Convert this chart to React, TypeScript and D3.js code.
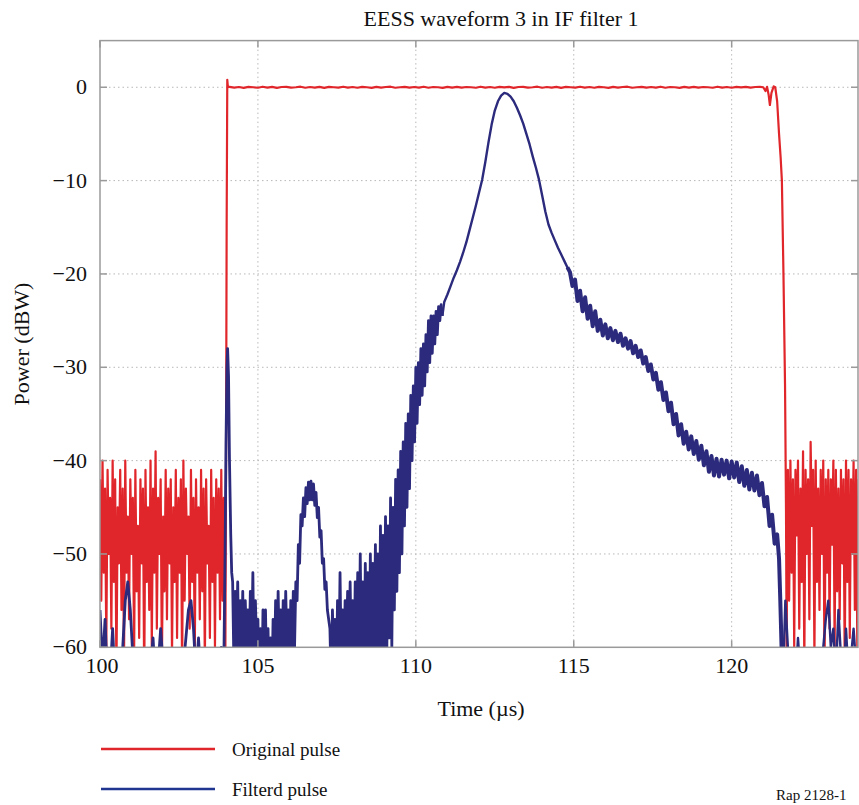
import React from "react";
import * as d3 from "d3";

const W = 859;
const H = 805;

const xTicks = [100, 105, 110, 115, 120];
const yTicks = [0, -10, -20, -30, -40, -50, -60];
const xGrid = [105, 110, 115, 120];
const yGrid = [0, -10, -20, -30, -40, -50];

const titleText = "EESS waveform 3 in IF filter 1";
const xLabel = "Time (µs)";
const yLabel = "Power (dBW)";
const legendNames = ["Original pulse", "Filterd pulse"];
const figRef = "Rap 2128-1";

// ---------- Original pulse (red) ----------
const redNoiseLeftStart = 100;
const redNoiseLeftStep = 0.04;
const redNoiseLeft = [
  -42, -55, -40, -52, -43, -60, -41, -50, -44, -58, -40, -53, -42, -63, -45, -51, -41, -56, -43, -62,
  -40, -52, -46, -57, -42, -50, -44, -61, -41, -54, -47, -59, -42, -51, -43, -64, -41, -53, -45, -56,
  -40, -60, -43, -52, -39, -58, -44, -50, -42, -62, -46, -54, -41, -57, -43, -51, -42, -61, -45, -53,
  -41, -59, -44, -52, -42, -63, -40, -55, -43, -50, -46, -58, -41, -53, -44, -61, -42, -52, -45, -57,
  -41, -54, -43, -62, -42, -51, -47, -59, -41, -53, -44, -60, -42, -52, -43, -57, -41, -55, -44, -60,
];
const redRise: [number, number][] = [
  [103.97, -60], [103.99, -40], [104.01, -15], [104.03, 0.8], [104.05, 0],
];
const redTopStart = 104.1;
const redTopStep = 0.15;
const redTop = [
  0.05, -0.04, 0.03, -0.06, 0.04, 0, -0.05, 0.06, -0.03, 0.05,
  -0.06, 0.03, 0.05, -0.04, 0, 0.06, -0.05, 0.03, -0.03, 0.05,
  -0.06, 0.05, 0, -0.04, 0.06, -0.03, 0.03, -0.05, 0.05, 0,
  -0.06, 0.05, -0.03, 0.03, 0.06, -0.05, 0, 0.05, -0.04, 0.03,
  -0.03, 0.06, -0.05, 0.03, 0, -0.06, 0.05, -0.03, 0.05, -0.04,
  0.03, 0, -0.05, 0.06, -0.03, 0.03, -0.05, 0.04, -0.02, 0.05,
  -0.06, 0.03, 0.05, -0.04, 0, 0.06, -0.05, 0.03, -0.03, 0.05,
  -0.06, 0.05, 0, -0.04, 0.06, -0.03, 0.03, -0.05, 0.05, 0,
  -0.06, 0.05, -0.03, 0.03, 0.06, -0.05, 0, 0.05, -0.04, 0.03,
  -0.03, 0.06, -0.05, 0.03, 0, -0.06, 0.05, -0.03, 0.05, -0.04,
  0.03, 0, -0.05, 0.06, -0.03, 0.03, -0.05, 0.04, -0.02, 0.05,
  -0.04, 0.03, 0.05,
];
const redFall: [number, number][] = [
  [121.0, 0], [121.07, -0.4], [121.12, 0.05], [121.17, -0.8], [121.21, -1.9], [121.26, -0.6],
  [121.33, 0.1], [121.38, 0.0], [121.44, -1.5], [121.5, -5], [121.55, -7.5], [121.59, -10],
  [121.64, -20], [121.69, -32], [121.72, -45], [121.74, -60],
];
const redNoiseRightStart = 121.78;
const redNoiseRightStep = 0.04;
const redNoiseRight = [
  -41, -55, -40, -52, -42, -60, -41, -48, -40, -58, -43, -53, -39, -62, -41, -50, -42, -57, -38, -47,
  -41, -61, -40, -53, -43, -56, -41, -50, -40, -63, -42, -52, -41, -58, -42, -49, -40, -60, -41, -54,
  -43, -57, -41, -51, -42, -62, -40, -53, -41, -59, -42, -50, -40, -56, -41, -61, -42,
];

// ---------- Filtered pulse (blue) ----------
const blueNoiseLeftStart = 100;
const blueNoiseLeftStep = 0.08;
const blueNoiseLeft = [
  -56, -62, -57, -64, -63, -58, -64, -65, -63, -60, -55, -53, -56, -61, -64, -65, -62, -64, -63, -65,
  -62, -59, -64, -62, -58, -62, -65, -64, -62, -65, -64, -63, -65, -62, -59, -56, -55, -58, -63, -59,
  -64, -65, -62, -64, -63, -65, -61, -64, -60, -62,
];
const blueSpike: [number, number][] = [
  [103.96, -50], [103.99, -38], [104.02, -30], [104.04, -28], [104.07, -31], [104.1, -40],
  [104.14, -48], [104.17, -52],
];
const blueFloorStart = 104.2;
const blueFloorStep = 0.04;
const blueFloor = [
  -53, -62, -54, -60, -53, -63, -55, -61, -54, -64, -55, -60, -56, -62, -54, -61, -52, -63, -55, -60,
  -57, -65, -58, -66, -56, -63, -56, -64, -58, -66, -59, -65, -57, -63, -55, -62, -54, -61, -56, -63,
  -55, -62, -54, -60, -56, -63, -55, -61, -54, -60,
];
const blueBumpStart = 106.2;
const blueBumpStep = 0.04;
const blueBump = [
  -53, -55, -49, -51, -45.8, -47, -44, -46, -42.9, -44.6, -42.3, -44.2, -42.2, -44.2, -42.5, -44.8,
  -43.4, -46.1, -45, -48.2, -47.5, -51, -50.5, -53.8, -53, -56,
];
const blueRiseStart = 107.28;
const blueRiseStep = 0.04;
const blueRise = [
  -58, -64, -56, -62, -57, -65, -55, -63, -52, -62, -56, -64, -55, -61, -54, -63, -53, -62, -55, -64,
  -53, -61, -52, -63, -50, -62, -53, -64, -51, -61, -52, -63, -50, -62, -51, -60, -49, -63, -50, -61,
  -47, -62, -48, -60, -46, -61, -47, -59, -44, -60, -45, -56, -42, -54, -41, -52, -39, -50, -38, -47,
  -36, -45, -35, -43, -33, -40, -32, -38, -30, -36, -29.5, -34, -28, -33, -27.5, -32, -26.5, -30.5, -25, -29.5,
  -24.5, -28.5, -24.5, -27.5, -24, -26.5, -23.5, -25, -23.3, -24.5,
];
const bluePeakStart = 110.9;
const bluePeakStep = 0.1;
const bluePeak = [
  -23.0, -22.2, -21.3, -20.4, -19.6, -18.7, -17.7, -16.6, -15.3, -14.0,
  -12.7, -11.3, -9.9, -8.0, -5.9, -4.0, -2.5, -1.5, -0.9, -0.6,
  -0.7, -1.0, -1.5, -2.2, -3.0, -3.9, -5.0, -6.1, -7.4, -8.6,
  -9.9, -11.6, -13.3, -14.7, -15.6, -16.4, -17.2, -17.9, -18.6, -19.3,
];
const blueTailStart = 114.88;
const blueTailStep = 0.08;
const blueTail = [
  -19.8, -21.3, -20.6, -22.9, -21.8, -24.0, -22.5, -24.8, -23.4, -25.6,
  -24.0, -26.1, -24.9, -26.6, -25.4, -26.9, -25.8, -27.1, -26.1, -27.3,
  -26.4, -27.7, -26.9, -28.0, -27.2, -28.5, -27.7, -28.9, -28.2, -29.6,
  -28.9, -30.4, -29.7, -31.3, -30.6, -32.4, -31.6, -33.5, -32.7, -34.7,
  -33.8, -36.1, -35.0, -37.3, -36.1, -38.2, -36.9, -38.8, -37.4, -39.3,
  -37.9, -39.9, -38.4, -40.5, -39.0, -41.2, -39.5, -41.6, -39.8, -41.7,
  -39.9, -41.5, -40.0, -41.9, -40.1, -41.8, -40.2, -42.3, -40.6, -42.7,
  -41.0, -43.1, -41.3, -43.2, -41.6, -43.7, -42.4, -44.9, -43.9, -47.0,
  -45.8, -48.9, -47.9,
];
const blueDrop: [number, number][] = [
  [121.5, -50.5], [121.54, -55], [121.58, -60], [121.62, -64],
];
const blueNoiseRightStart = 121.7;
const blueNoiseRightStep = 0.08;
const blueNoiseRight = [
  -55, -60, -63, -61, -64, -59, -63, -65, -62, -64, -61, -65, -63, -62, -64, -60, -57, -55, -60, -58,
  -63, -56, -61, -64, -58, -63, -61, -58, -62, -64,
];

const seq = (t0: number, dt: number, vals: number[]): [number, number][] =>
  vals.map((v, i) => [t0 + i * dt, v]);

const redSeries: [number, number][] = [
  ...seq(redNoiseLeftStart, redNoiseLeftStep, redNoiseLeft),
  ...redRise,
  ...seq(redTopStart, redTopStep, redTop.slice(0, Math.floor((121.0 - redTopStart) / redTopStep) + 1)),
  ...redFall,
  ...seq(redNoiseRightStart, redNoiseRightStep, redNoiseRight),
];

const blueNoisy: [number, number][] = [
  ...seq(blueNoiseLeftStart, blueNoiseLeftStep, blueNoiseLeft),
  ...blueSpike,
  ...seq(blueFloorStart, blueFloorStep, blueFloor),
  ...seq(blueBumpStart, blueBumpStep, blueBump),
  ...seq(blueRiseStart, blueRiseStep, blueRise),
];
const bluePeakSeries = seq(bluePeakStart, bluePeakStep, bluePeak);
const blueTailSeries: [number, number][] = [
  ...seq(blueTailStart, blueTailStep, blueTail),
  ...blueDrop,
];
const blueRightSeries = seq(blueNoiseRightStart, blueNoiseRightStep, blueNoiseRight);

const RED = "#e0262a";
const BLUE = "#2b2a7c";
const AXIS = "#9a9a9a";
const GRID = "#b8b8b8";
const FONT = "'Liberation Serif', 'Times New Roman', serif";

export default function App() {
  const left = 100;
  const right = 858;
  const top = 40.6;
  const bottom = 647.3;

  const x = d3.scaleLinear().domain([100, 124]).range([left, right]);
  const y = d3.scaleLinear().domain([-60, 5]).range([bottom, top]);

  const line = d3
    .line<[number, number]>()
    .x((d) => x(d[0]))
    .y((d) => y(d[1]));

  const tickLen = 7;

  const noisyPath = line(blueNoisy) || "";
  const lastNoisy = blueNoisy[blueNoisy.length - 1];
  const lastPeak = bluePeakSeries[bluePeakSeries.length - 1];
  const firstTail = blueTailSeries[0];
  const lastTail = blueTailSeries[blueTailSeries.length - 1];

  return (
    <svg
      width={W}
      height={H}
      viewBox={`0 0 ${W} ${H}`}
      style={{ position: "absolute", left: 0, top: 0, background: "#fff" }}
    >
      <defs>
        <clipPath id="plotClip">
          <rect x={left} y={top} width={right - left} height={bottom - top} />
        </clipPath>
      </defs>
      <rect x={0} y={0} width={W} height={H} fill="#fff" />

      {/* grid */}
      {xGrid.map((t) => (
        <line
          key={"gx" + t}
          x1={x(t)}
          x2={x(t)}
          y1={top}
          y2={bottom}
          stroke={GRID}
          strokeWidth={1}
          strokeDasharray="1.5,3"
        />
      ))}
      {yGrid.map((v) => (
        <line
          key={"gy" + v}
          x1={left}
          x2={right}
          y1={y(v)}
          y2={y(v)}
          stroke={GRID}
          strokeWidth={1}
          strokeDasharray="1.5,3"
        />
      ))}

      {/* data */}
      <g clipPath="url(#plotClip)">
        <path d={line(redSeries) || ""} fill="none" stroke={RED} strokeWidth={2.2} strokeLinejoin="round" />
        <path d={noisyPath} fill="none" stroke={BLUE} strokeWidth={2.8} strokeLinejoin="round" />
        <path
          d={line([lastNoisy, ...bluePeakSeries, firstTail]) || ""}
          fill="none"
          stroke={BLUE}
          strokeWidth={2.4}
          strokeLinejoin="round"
        />
        <path
          d={line([lastPeak, ...blueTailSeries]) || ""}
          fill="none"
          stroke={BLUE}
          strokeWidth={4}
          strokeLinejoin="round"
        />
        <path
          d={line([lastTail, ...blueRightSeries]) || ""}
          fill="none"
          stroke={BLUE}
          strokeWidth={2.4}
          strokeLinejoin="round"
        />
      </g>

      {/* axes box */}
      <rect x={left} y={top} width={right - left} height={bottom - top} fill="none" stroke={AXIS} strokeWidth={1.5} />
      {xTicks.map((t) => (
        <g key={"xt" + t}>
          <line x1={x(t)} x2={x(t)} y1={bottom} y2={bottom - tickLen} stroke={AXIS} strokeWidth={1.5} />
          <line x1={x(t)} x2={x(t)} y1={top} y2={top + tickLen} stroke={AXIS} strokeWidth={1.5} />
          <text
            x={x(t) + (t === 100 ? 2 : 0)}
            y={673}
            textAnchor="middle"
            fontFamily={FONT}
            fontSize={22}
            fill="#111"
          >
            {t}
          </text>
        </g>
      ))}
      {yTicks.map((v) => (
        <g key={"yt" + v}>
          <line x1={left} x2={left + tickLen} y1={y(v)} y2={y(v)} stroke={AXIS} strokeWidth={1.5} />
          <line x1={right} x2={right - tickLen} y1={y(v)} y2={y(v)} stroke={AXIS} strokeWidth={1.5} />
          <text
            x={87}
            y={y(v) + 7}
            textAnchor="end"
            fontFamily={FONT}
            fontSize={22}
            fill="#111"
          >
            {v < 0 ? "\u2212" + Math.abs(v) : String(v)}
          </text>
        </g>
      ))}

      {/* title & labels */}
      <text x={501} y={26} textAnchor="middle" fontFamily={FONT} fontSize={22} fill="#111">
        {titleText}
      </text>
      <text x={481} y={716} textAnchor="middle" fontFamily={FONT} fontSize={22} fill="#111">
        {xLabel}
      </text>
      <text
        transform={`translate(29, 344) rotate(-90)`}
        textAnchor="middle"
        fontFamily={FONT}
        fontSize={22}
        fill="#111"
      >
        {yLabel}
      </text>

      {/* legend */}
      <line x1={101} x2={215} y1={749} y2={749} stroke={RED} strokeWidth={2.5} />
      <text x={232} y={756} fontFamily={FONT} fontSize={19} fill="#111">
        {legendNames[0]}
      </text>
      <line x1={101} x2={215} y1={789} y2={789} stroke="#1f3590" strokeWidth={2.5} />
      <text x={232} y={796} fontFamily={FONT} fontSize={19} fill="#111">
        {legendNames[1]}
      </text>
      <text x={776} y={800} fontFamily={FONT} fontSize={15} fill="#111">
        {figRef}
      </text>
    </svg>
  );
}
